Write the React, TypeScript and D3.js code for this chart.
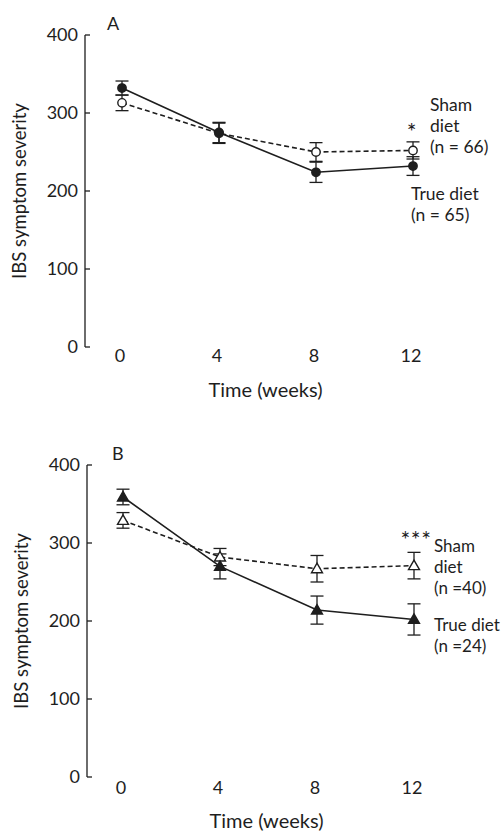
import React from "react";
import * as d3 from "d3";

const weeks = [0, 4, 8, 12];
const yTicks = [0, 100, 200, 300, 400];

const trueA = [332, 275, 224, 232];
const trueAErr = [9, 13, 13, 12];
const shamA = [313, 274, 250, 252];
const shamAErr = [10, 13, 12, 11];

const trueB = [359, 270, 214, 202];
const trueBErr = [10, 16, 18, 20];
const shamB = [329, 282, 267, 271];
const shamBErr = [10, 11, 17, 17];

const FONT = "Lato, 'DejaVu Sans', sans-serif";
const INK = "#1e1e1e";

type Series = { values: number[]; err: number[]; filled: boolean; dashed: boolean };

function Marker({ x, y, shape, filled }: { x: number; y: number; shape: string; filled: boolean }) {
  const fill = filled ? INK : "#fff";
  if (shape === "circle") {
    return <circle cx={x} cy={y} r={4.2} fill={fill} stroke={INK} strokeWidth={1.4} />;
  }
  const s = d3.symbol().type(d3.symbolTriangle).size(52)();
  return <path d={s || ""} transform={`translate(${x},${y + 0.8})`} fill={fill} stroke={INK} strokeWidth={1.4} />;
}

function Panel(props: {
  top: number;
  bottom: number;
  axisX: number;
  x0: number;
  x1: number;
  letter: string;
  letterX: number;
  series: Series[];
  shape: string;
  tickLabelY: number;
  xTitleY: number;
  yTitleX: number;
  star: string;
  starPos: [number, number];
  labelSize: number;
  labels: { text: string; x: number; y: number }[];
}) {
  const y = d3.scaleLinear().domain([0, 400]).range([props.bottom, props.top]);
  const x = d3.scaleLinear().domain([0, 12]).range([props.x0, props.x1]);
  const line = d3
    .line<number>()
    .x((_, i) => x(weeks[i]))
    .y((d) => y(d));
  const cap = 6.5;
  return (
    <g fontFamily={FONT} fill={INK}>
      <line x1={props.axisX} x2={props.axisX} y1={y(400)} y2={y(0)} stroke={INK} strokeWidth={1.3} />
      {yTicks.map((t) => (
        <g key={t}>
          <line x1={props.axisX} x2={props.axisX + 5} y1={y(t)} y2={y(t)} stroke={INK} strokeWidth={1.3} />
          <text x={props.axisX - 7} y={y(t)} dy="0.36em" textAnchor="end" fontSize={18}>
            {t}
          </text>
        </g>
      ))}
      {weeks.map((w) => (
        <text key={w} x={x(w) - 2} y={props.tickLabelY} textAnchor="middle" fontSize={18}>
          {w}
        </text>
      ))}
      <text x={(props.x0 + props.x1) / 2 - 2} y={props.xTitleY} textAnchor="middle" fontSize={20}>
        Time (weeks)
      </text>
      <text
        transform={`translate(${props.yTitleX},${(y(0) + y(400)) / 2}) rotate(-90)`}
        textAnchor="middle"
        fontSize={18.5}
      >
        IBS symptom severity
      </text>
      <text x={props.letterX} y={props.top - 5} fontSize={18}>
        {props.letter}
      </text>
      {props.series.map((s, si) => (
        <g key={si}>
          <path
            d={line(s.values) || ""}
            fill="none"
            stroke={INK}
            strokeWidth={1.6}
            strokeDasharray={s.dashed ? "5,3" : undefined}
          />
          {s.values.map((v, i) => {
            const cx = x(weeks[i]);
            const lo = y(v - s.err[i]);
            const hi = y(v + s.err[i]);
            return (
              <g key={i} stroke={INK} strokeWidth={1.3}>
                <line x1={cx} x2={cx} y1={lo} y2={hi} />
                <line x1={cx - cap} x2={cx + cap} y1={lo} y2={lo} />
                <line x1={cx - cap} x2={cx + cap} y1={hi} y2={hi} />
              </g>
            );
          })}
        </g>
      ))}
      {props.series.map((s, si) =>
        s.values.map((v, i) => (
          <Marker key={`${si}-${i}`} x={x(weeks[i])} y={y(v)} shape={props.shape} filled={s.filled} />
        ))
      )}
      <text x={props.starPos[0]} y={props.starPos[1]} textAnchor="middle" fontSize={23} letterSpacing={0.5}>
        {props.star}
      </text>
      {props.labels.map((l, i) => (
        <text key={i} x={l.x} y={l.y} fontSize={props.labelSize}>
          {l.text}
        </text>
      ))}
    </g>
  );
}

export default function App() {
  return (
    <svg
      width={502}
      height={832}
      style={{ position: "absolute", left: 0, top: 0, background: "#fff" }}
    >
      <Panel
        top={35}
        bottom={347}
        axisX={85}
        x0={122}
        x1={413}
        letter="A"
        letterX={107}
        shape="circle"
        series={[
          { values: shamA, err: shamAErr, filled: false, dashed: true },
          { values: trueA, err: trueAErr, filled: true, dashed: false },
        ]}
        tickLabelY={362}
        xTitleY={397}
        yTitleX={26}
        star="*"
        starPos={[412, 140]}
        labelSize={17.5}
        labels={[
          { text: "Sham", x: 430, y: 111 },
          { text: "diet", x: 430, y: 132 },
          { text: "(n = 66)", x: 430, y: 153 },
          { text: "True diet", x: 411, y: 200 },
          { text: "(n = 65)", x: 411, y: 221 },
        ]}
      />
      <Panel
        top={465}
        bottom={777}
        axisX={87}
        x0={123}
        x1={414}
        letter="B"
        letterX={112}
        shape="triangle"
        series={[
          { values: shamB, err: shamBErr, filled: false, dashed: true },
          { values: trueB, err: trueBErr, filled: true, dashed: false },
        ]}
        tickLabelY={794}
        xTitleY={828}
        yTitleX={28}
        star="***"
        starPos={[416, 548]}
        labelSize={17}
        labels={[
          { text: "Sham", x: 434, y: 552 },
          { text: "diet", x: 434, y: 573 },
          { text: "(n =40)", x: 434, y: 594 },
          { text: "True diet", x: 434, y: 631 },
          { text: "(n =24)", x: 434, y: 652 },
        ]}
      />
    </svg>
  );
}
